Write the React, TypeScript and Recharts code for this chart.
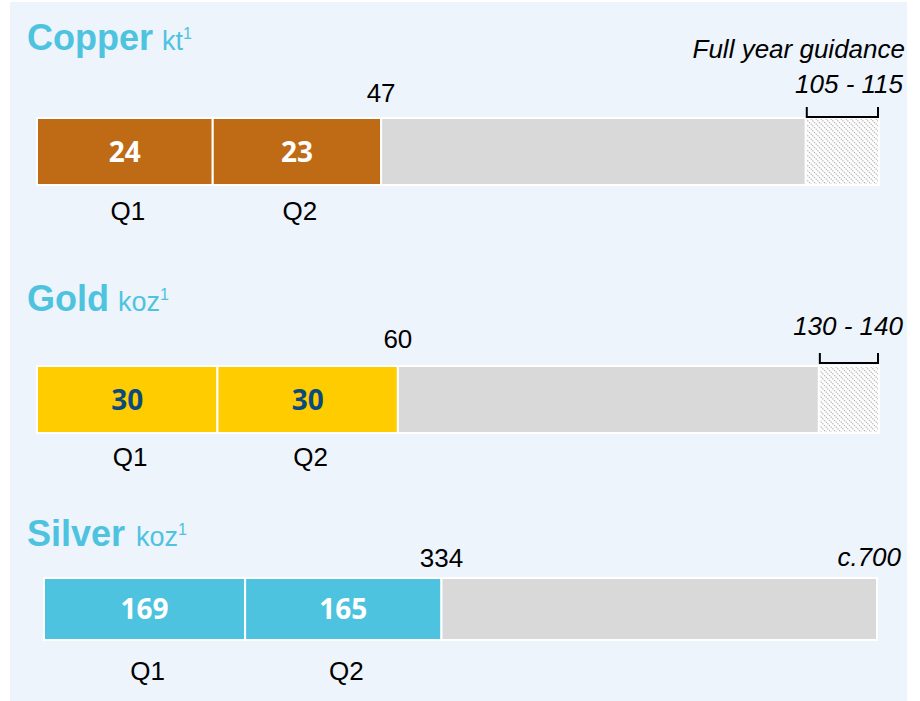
import React from 'react'
import { BarChart, Bar, XAxis, YAxis, LabelList } from 'recharts'

// values
const metals = ['Copper', 'Gold', 'Silver']
const units = ['kt', 'koz', 'koz']
const q1Values = [24, 30, 169]
const q2Values = [23, 30, 165]
const guidanceLow = [105, 130, 700]
const guidanceHigh = [115, 140, 700]
const guidanceLabels = ['105 - 115', '130 - 140', 'c.700']
const quarterLabels = ['Q1', 'Q2']

const barColors = ['#BF6A15', '#FFCC00', '#4EC3DF']
const innerColors = ['#FFFFFF', '#0B4A7D', '#FFFFFF']
const titleColor = '#4EC3DF'
const sans = '"Liberation Sans", Arial, sans-serif'

// page layout of each row
const rows = [
  { barTop: 118, barH: 67, left: 37, right: 879, titleY: 50, unitDx: 9, totalRise: 16, guideRise: 25, bracketTop: 11, bracketBottom: 1, qDrop: 35 },
  { barTop: 366, barH: 67, left: 37, right: 879, titleY: 311, unitDx: 9, totalRise: 18, guideRise: 31, bracketTop: 13, bracketBottom: 3, qDrop: 33 },
  { barTop: 578, barH: 62, left: 44, right: 877, titleY: 546, unitDx: 11, totalRise: 11, guideRise: 12, bracketTop: 0, bracketBottom: 0, qDrop: 40 },
]

const PAD = 70
const SLACK = 12

const box = (p: any) => {
  const vb = p.viewBox || {}
  return {
    x: vb.x ?? p.x,
    y: vb.y ?? p.y,
    w: vb.width ?? p.width,
    h: vb.height ?? p.height,
  }
}

function MetalRow({ i }: { i: number }) {
  const row = rows[i]
  const rest = guidanceLow[i] - q1Values[i] - q2Values[i]
  const range = guidanceHigh[i] - guidanceLow[i]
  const data = [
    {
      name: metals[i],
      q1: q1Values[i],
      q2: q2Values[i],
      rest,
      range,
    },
  ]
  const total = q1Values[i] + q2Values[i]

  const innerLabel = (p: any) => {
    const { x, y, w, h } = box(p)
    return (
      <text x={x + w / 2} y={y + h / 2 + 10} textAnchor="middle" fill={innerColors[i]}
        fontFamily='"Open Sans", sans-serif' fontWeight={700} fontSize={28}>
        {p.value}
      </text>
    )
  }

  const quarterLabel = (q: number) => (p: any) => {
    const { x, y, w, h } = box(p)
    return (
      <text x={x + w / 2 + 3} y={y + h + row.qDrop} textAnchor="middle" fill="#000" fontFamily={sans} fontSize={26}>
        {quarterLabels[q]}
      </text>
    )
  }

  const totalLabel = (p: any) => {
    const { x, y, w } = box(p)
    return (
      <text x={x + w} y={y - row.totalRise} textAnchor="middle" fill="#000" fontFamily={sans} fontSize={26}>
        {total}
      </text>
    )
  }

  // drawn on the grey bar so it shows even when the range is zero;
  // the range width comes from the grey bar's own px-per-unit
  const guideLabel = (p: any) => {
    const { x, y, w } = box(p)
    const end = x + w
    const rw = rest > 0 ? (w / rest) * range : 0
    const hasRange = rw > 1
    return (
      <g>
        {hasRange && (
          <path
            d={`M${end + 1},${y - row.bracketTop} V${y - row.bracketBottom} H${end + rw - 1} V${y - row.bracketTop}`}
            fill="none" stroke="#000" strokeWidth={2}
          />
        )}
        <text x={end + rw + 24} y={y - row.guideRise} textAnchor="end" fill="#000" fontFamily={sans}
          fontStyle="italic" fontSize={26}>
          {guidanceLabels[i]}
        </text>
      </g>
    )
  }

  return (
    <div style={{ position: 'absolute', left: 0, top: row.barTop - PAD }}>
      <BarChart
        width={920}
        height={row.barH + PAD * 2}
        data={data}
        layout="vertical"
        barCategoryGap={0}
        margin={{ top: PAD - SLACK, bottom: PAD - SLACK, left: row.left, right: 920 - row.right }}
      >
        <defs>
          <pattern id={`hatch-${i}`} patternUnits="userSpaceOnUse" width={5} height={5}>
            <rect width={5} height={5} fill="#FFFFFF" />
            <path d="M-1,-1 L6,6 M-1,4 L1,6 M4,-1 L6,1" stroke="#B4B4B4" strokeWidth={1.2} strokeDasharray="1.4 1" />
          </pattern>
        </defs>
        <XAxis type="number" domain={[0, guidanceHigh[i]]} hide />
        <YAxis type="category" dataKey="name" hide />
        <Bar dataKey="q1" stackId="a" fill={barColors[i]} stroke="#FFFFFF" strokeWidth={2} barSize={row.barH} isAnimationActive={false}>
          <LabelList dataKey="q1" content={innerLabel} />
          <LabelList dataKey="q1" content={quarterLabel(0)} />
        </Bar>
        <Bar dataKey="q2" stackId="a" fill={barColors[i]} stroke="#FFFFFF" strokeWidth={2} barSize={row.barH} isAnimationActive={false}>
          <LabelList dataKey="q2" content={innerLabel} />
          <LabelList dataKey="q2" content={quarterLabel(1)} />
          <LabelList dataKey="q2" content={totalLabel} />
        </Bar>
        <Bar dataKey="rest" stackId="a" fill="#D9D9D9" stroke="#FFFFFF" strokeWidth={2} barSize={row.barH} isAnimationActive={false}>
          <LabelList dataKey="rest" content={guideLabel} />
        </Bar>
        <Bar dataKey="range" stackId="a" fill={`url(#hatch-${i})`} stroke="#FFFFFF" strokeWidth={2} barSize={row.barH} isAnimationActive={false} />
      </BarChart>
    </div>
  )
}

export default function App() {
  return (
    <div style={{ position: 'absolute', left: 0, top: 0, width: 920, height: 701, background: '#FFFFFF', overflow: 'hidden' }}>
      <div style={{ position: 'absolute', left: 10, top: 2, width: 897, height: 699, background: '#EDF4FC' }} />
      <svg width={920} height={701} style={{ position: 'absolute', left: 0, top: 0 }}>
        {metals.map((m, i) => (
          <text key={m} x={27} y={rows[i].titleY} fill={titleColor} fontFamily={sans} fontWeight={700} fontSize={36}>
            {m}
            <tspan dx={rows[i].unitDx} fontWeight={400} fontSize={27}>{units[i]}</tspan>
            <tspan dy={-11} fontWeight={400} fontSize={16}>1</tspan>
          </text>
        ))}
        <text x={905} y={58} textAnchor="end" fill="#000" fontFamily={sans} fontStyle="italic" fontSize={26}>
          Full year guidance
        </text>
      </svg>
      {metals.map((m, i) => (
        <MetalRow key={m} i={i} />
      ))}
    </div>
  )
}
